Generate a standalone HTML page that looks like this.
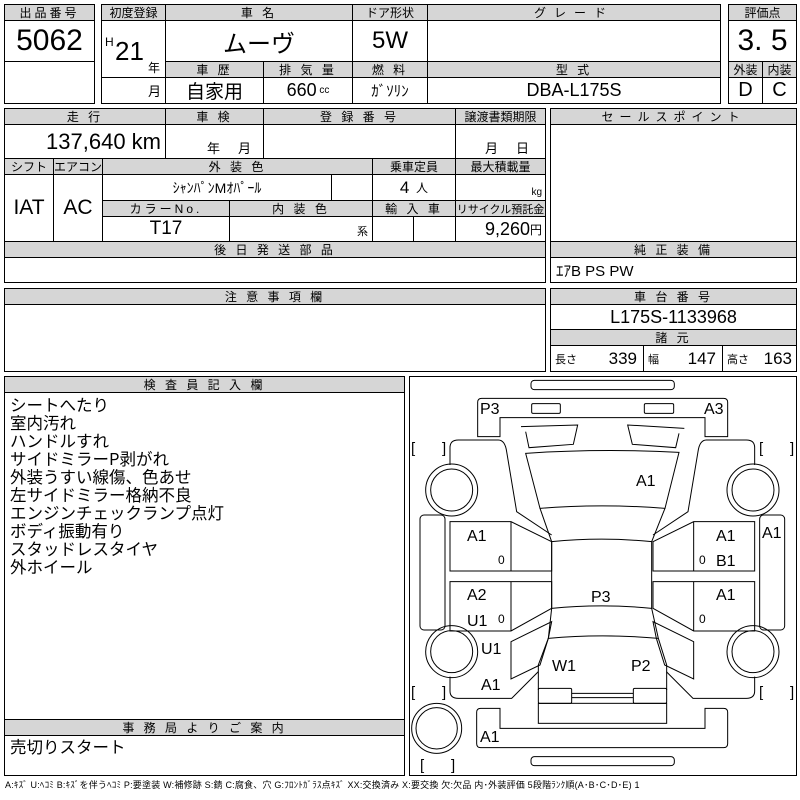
<!DOCTYPE html>
<html><head><meta charset="utf-8"><style>
body{margin:0;width:800px;height:800px;background:#fff;position:relative;overflow:hidden;font-family:"Liberation Sans Narrow","Liberation Sans","Noto Sans CJK JP",sans-serif;color:#000}
.c{position:absolute;border:1px solid #000;box-sizing:border-box;display:flex;align-items:center;justify-content:center;white-space:nowrap}
.h{background:#d6d6d6;font-size:12px;letter-spacing:3px}
.t{position:absolute;white-space:nowrap;line-height:1}
</style></head><body>
<!-- block1 -->
<div class="c h" style="left:4px;top:4px;width:91px;height:17px">出品番号</div>
<div class="c" style="left:4px;top:20px;width:91px;height:42px;font-size:30px">5062</div>
<div class="c" style="left:4px;top:61px;width:91px;height:43px"></div>
<!-- block2 -->
<div class="c h" style="left:101px;top:4px;width:65px;height:17px;letter-spacing:0">初度登録</div>
<div class="c h" style="left:165px;top:4px;width:188px;height:17px">車 名</div>
<div class="c h" style="left:352px;top:4px;width:76px;height:17px;letter-spacing:0">ドア形状</div>
<div class="c h" style="left:427px;top:4px;width:294px;height:17px;letter-spacing:8px">グレード</div>
<div class="c" style="left:101px;top:20px;width:65px;height:58px"></div>
<div class="t" style="left:105px;top:36px;font-size:12px">H</div>
<div class="t" style="left:115px;top:38px;font-size:26px">21</div>
<div class="t" style="left:148px;top:62px;font-size:12px">年</div>
<div class="c" style="left:165px;top:20px;width:188px;height:42px;font-size:24px;font-family:'Noto Sans CJK JP',sans-serif">ムーヴ</div>
<div class="c" style="left:352px;top:20px;width:76px;height:42px;font-size:24px">5W</div>
<div class="c" style="left:427px;top:20px;width:294px;height:42px"></div>
<div class="c h" style="left:165px;top:61px;width:99px;height:17px">車 歴</div>
<div class="c h" style="left:263px;top:61px;width:90px;height:17px">排 気 量</div>
<div class="c h" style="left:352px;top:61px;width:76px;height:17px">燃 料</div>
<div class="c h" style="left:427px;top:61px;width:294px;height:17px">型 式</div>
<div class="c" style="left:101px;top:77px;width:65px;height:27px;justify-content:flex-end;padding-right:4px;font-size:13px">月</div>
<div class="c" style="left:165px;top:77px;width:99px;height:27px;font-size:19px">自家用</div>
<div class="c" style="left:263px;top:77px;width:90px;height:27px;font-size:18px">660 <span style="font-size:10px">&nbsp;cc</span></div>
<div class="c" style="left:352px;top:77px;width:76px;height:27px;font-size:15px">ｶﾞｿﾘﾝ</div>
<div class="c" style="left:427px;top:77px;width:294px;height:27px;font-size:18px">DBA-L175S</div>
<!-- block3 -->
<div class="c h" style="left:728px;top:4px;width:69px;height:17px;letter-spacing:0">評価点</div>
<div class="c" style="left:728px;top:20px;width:69px;height:42px;font-size:30px">3. 5</div>
<div class="c h" style="left:728px;top:61px;width:35px;height:17px;letter-spacing:0">外装</div>
<div class="c h" style="left:762px;top:61px;width:35px;height:17px;letter-spacing:0">内装</div>
<div class="c" style="left:728px;top:77px;width:35px;height:27px;font-size:20px">D</div>
<div class="c" style="left:762px;top:77px;width:35px;height:27px;font-size:20px">C</div>
<!-- block4 -->
<div class="c h" style="left:4px;top:108px;width:162px;height:17px">走 行</div>
<div class="c h" style="left:165px;top:108px;width:99px;height:17px">車 検</div>
<div class="c h" style="left:263px;top:108px;width:193px;height:17px">登 録 番 号</div>
<div class="c h" style="left:455px;top:108px;width:91px;height:17px;letter-spacing:0">譲渡書類期限</div>
<div class="c" style="left:4px;top:124px;width:162px;height:35px;justify-content:flex-end;padding-right:4px;font-size:22px">137,640 km</div>
<div class="c" style="left:165px;top:124px;width:99px;height:35px"></div>
<div class="t" style="left:207px;top:142px;font-size:13px">年&nbsp;&nbsp;&nbsp;&nbsp;&nbsp;月</div>
<div class="c" style="left:263px;top:124px;width:193px;height:35px"></div>
<div class="c" style="left:455px;top:124px;width:91px;height:35px"></div>
<div class="t" style="left:485px;top:142px;font-size:13px">月&nbsp;&nbsp;&nbsp;&nbsp;&nbsp;日</div>
<div class="c h" style="left:4px;top:158px;width:50px;height:17px;letter-spacing:0">シフト</div>
<div class="c h" style="left:53px;top:158px;width:50px;height:17px;letter-spacing:0">エアコン</div>
<div class="c h" style="left:102px;top:158px;width:271px;height:17px">外 装 色</div>
<div class="c h" style="left:372px;top:158px;width:84px;height:17px;letter-spacing:0">乗車定員</div>
<div class="c h" style="left:455px;top:158px;width:91px;height:17px;letter-spacing:0">最大積載量</div>
<div class="c" style="left:4px;top:174px;width:50px;height:68px;font-size:21px">IAT</div>
<div class="c" style="left:53px;top:174px;width:50px;height:68px;font-size:21px">AC</div>
<div class="c" style="left:102px;top:174px;width:230px;height:27px;font-size:14px">ｼｬﾝﾊﾟﾝMｵﾊﾟｰﾙ</div>
<div class="c" style="left:331px;top:174px;width:42px;height:27px"></div>
<div class="c" style="left:372px;top:174px;width:84px;height:27px;font-size:17px">4 <span style="font-size:12px">&nbsp;&nbsp;人</span></div>
<div class="c" style="left:455px;top:174px;width:91px;height:27px;justify-content:flex-end;align-items:flex-end;padding:0 3px 2px 0;font-size:10px">kg</div>
<div class="c h" style="left:102px;top:200px;width:128px;height:17px">カラーNo.</div>
<div class="c h" style="left:229px;top:200px;width:144px;height:17px">内 装 色</div>
<div class="c h" style="left:372px;top:200px;width:84px;height:17px">輸 入 車</div>
<div class="c h" style="left:455px;top:200px;width:91px;height:17px;letter-spacing:0;font-size:11px">リサイクル預託金</div>
<div class="c" style="left:102px;top:216px;width:128px;height:26px;font-size:19px">T17</div>
<div class="c" style="left:229px;top:216px;width:144px;height:26px;justify-content:flex-end;align-items:flex-end;padding:0 4px 2px 0;font-size:11px">系</div>
<div class="c" style="left:372px;top:216px;width:42px;height:26px"></div>
<div class="c" style="left:413px;top:216px;width:43px;height:26px"></div>
<div class="c" style="left:455px;top:216px;width:91px;height:26px;justify-content:flex-end;padding-right:3px;font-size:18px">9,260<span style="font-size:12px">円</span></div>
<div class="c h" style="left:4px;top:241px;width:542px;height:17px">後 日 発 送 部 品</div>
<div class="c" style="left:4px;top:257px;width:542px;height:26px"></div>
<!-- block5 -->
<div class="c h" style="left:550px;top:108px;width:247px;height:17px;letter-spacing:6px">セールスポイント</div>
<div class="c" style="left:550px;top:124px;width:247px;height:118px"></div>
<div class="c h" style="left:550px;top:241px;width:247px;height:17px">純 正 装 備</div>
<div class="c" style="left:550px;top:257px;width:247px;height:26px;justify-content:flex-start;padding-left:5px;font-size:15px">ｴｱB PS PW</div>
<!-- block6/7 -->
<div class="c h" style="left:4px;top:288px;width:542px;height:17px">注 意 事 項 欄</div>
<div class="c" style="left:4px;top:304px;width:542px;height:68px"></div>
<div class="c h" style="left:550px;top:288px;width:247px;height:17px">車 台 番 号</div>
<div class="c" style="left:550px;top:304px;width:247px;height:26px;font-size:18px">L175S-1133968</div>
<div class="c h" style="left:550px;top:329px;width:247px;height:17px">諸 元</div>
<div class="c" style="left:550px;top:345px;width:94px;height:27px;justify-content:space-between;padding:0 6px 0 4px;font-size:17px"><span style="font-size:11px">長さ</span>339</div>
<div class="c" style="left:643px;top:345px;width:80px;height:27px;justify-content:space-between;padding:0 6px 0 4px;font-size:17px"><span style="font-size:11px">幅</span>147</div>
<div class="c" style="left:722px;top:345px;width:75px;height:27px;justify-content:space-between;padding:0 4px 0 4px;font-size:17px"><span style="font-size:11px">高さ</span>163</div>
<!-- block8 -->
<div class="c" style="left:4px;top:376px;width:401px;height:400px"></div>
<div class="c h" style="left:4px;top:376px;width:401px;height:17px">検 査 員 記 入 欄</div>
<div class="t" style="left:10px;top:395px;font-size:16.5px;line-height:18px;font-family:'Noto Sans CJK JP',sans-serif">シートへたり<br>室内汚れ<br>ハンドルすれ<br>サイドミラーP剥がれ<br>外装うすい線傷、色あせ<br>左サイドミラー格納不良<br>エンジンチェックランプ点灯<br>ボディ振動有り<br>スタッドレスタイヤ<br>外ホイール</div>
<div class="c h" style="left:4px;top:719px;width:401px;height:17px">事 務 局 よ り ご 案 内</div>
<div class="t" style="left:10px;top:738px;font-size:16.5px;font-family:'Noto Sans CJK JP',sans-serif">売切りスタート</div>
<div class="c" style="left:409px;top:376px;width:388px;height:400px"></div>
<div class="t" style="left:5px;top:781px;font-size:9px;letter-spacing:0.2px">A:ｷｽﾞ U:ﾍｺﾐ B:ｷｽﾞを伴うﾍｺﾐ P:要塗装 W:補修跡 S:錆 C:腐食、穴 G:ﾌﾛﾝﾄｶﾞﾗｽ点ｷｽﾞ XX:交換済み X:要交換 欠:欠品 内･外装評価 5段階ﾗﾝｸ順(A･B･C･D･E) 1</div>
<svg style="position:absolute;left:0;top:0" width="800" height="800">
<g transform="translate(405,375) scale(0.33333)" fill="none" stroke="#000" stroke-width="3">
<rect x="378" y="16" width="430" height="28" rx="10"/>
<path d="M218,82 Q218,70 230,70 H956 Q968,70 968,82 V185 H900 V128 H285 V185 H218 Z"/>
<rect x="380" y="86" width="86" height="29" rx="4"/>
<rect x="718" y="86" width="88" height="29" rx="4"/>
<path d="M348,155 L518,150 L505,208 L372,218 L362,170"/>
<path d="M838,160 L668,150 L682,208 L812,218 L822,175"/>
<path d="M362,235 Q590,220 822,232 L780,400 Q590,385 405,400 Z"/>
<path d="M405,400 L440,500 M780,400 L740,500"/>
<path d="M440,500 Q590,485 740,500 V700 Q590,685 440,700 Z"/>
<path d="M440,700 L430,790 Q590,775 760,790 L740,700"/>
<path d="M430,790 L400,870 V945 M760,790 L785,870 V945"/>
<rect x="400" y="940" width="100" height="45" rx="4"/>
<rect x="685" y="940" width="100" height="45" rx="4"/>
<path d="M500,955 H685 M500,968 H685"/>
<rect x="400" y="985" width="385" height="60"/>
<path d="M215,1012 Q215,1000 227,1000 H285 V1060 H900 V1000 H956 Q968,1000 968,1012 V1106 Q968,1118 956,1118 H227 Q215,1118 215,1106 Z"/>
<rect x="378" y="1145" width="430" height="27" rx="10"/>
<circle cx="95" cy="1060" r="75"/><circle cx="95" cy="1060" r="62"/>
<g id="side">
<rect x="45" y="420" width="75" height="345" rx="12"/>
<circle cx="140" cy="345" r="78"/><circle cx="140" cy="345" r="63"/>
<circle cx="140" cy="830" r="78"/><circle cx="140" cy="830" r="63"/>
<path d="M135,270 V218 Q135,195 160,195 H280 Q300,195 305,230 L335,410 L440,480"/>
<path d="M135,440 H318 L440,500 V588 H135 Z M318,440 V588"/>
<path d="M135,620 H440 V700 L318,768 H135 Z M318,620 V768"/>
<path d="M318,800 L440,740 L430,790 L405,870 L318,912 Z"/>
<path d="M135,905 V948 Q135,970 160,970 H320 L400,890"/>
</g>
<use href="#side" transform="translate(1184,0) scale(-1,1)"/>
</g>
<g font-family="'Liberation Sans Narrow','Liberation Sans',sans-serif" font-size="16" fill="#000">
<text x="480" y="414">P3</text><text x="704" y="414">A3</text>
<text x="636" y="486">A1</text>
<text x="467" y="541">A1</text><text x="498" y="564" font-size="12">0</text>
<text x="716" y="541">A1</text><text x="699" y="564" font-size="12">0</text><text x="716" y="566">B1</text>
<text x="762" y="538">A1</text>
<text x="467" y="600">A2</text><text x="467" y="626">U1</text><text x="498" y="623" font-size="12">0</text>
<text x="591" y="602">P3</text>
<text x="716" y="600">A1</text><text x="699" y="623" font-size="12">0</text>
<text x="481" y="654">U1</text>
<text x="552" y="671">W1</text><text x="631" y="671">P2</text>
<text x="481" y="690">A1</text>
<text x="480" y="742">A1</text>
<g font-size="15"><text x="411" y="453">[</text><text x="442" y="453">]</text><text x="759" y="453">[</text><text x="790" y="453">]</text>
<text x="411" y="697">[</text><text x="442" y="697">]</text><text x="759" y="697">[</text><text x="790" y="697">]</text>
<text x="420" y="770">[</text><text x="451" y="770">]</text></g>
</g>
</svg>
</body></html>
